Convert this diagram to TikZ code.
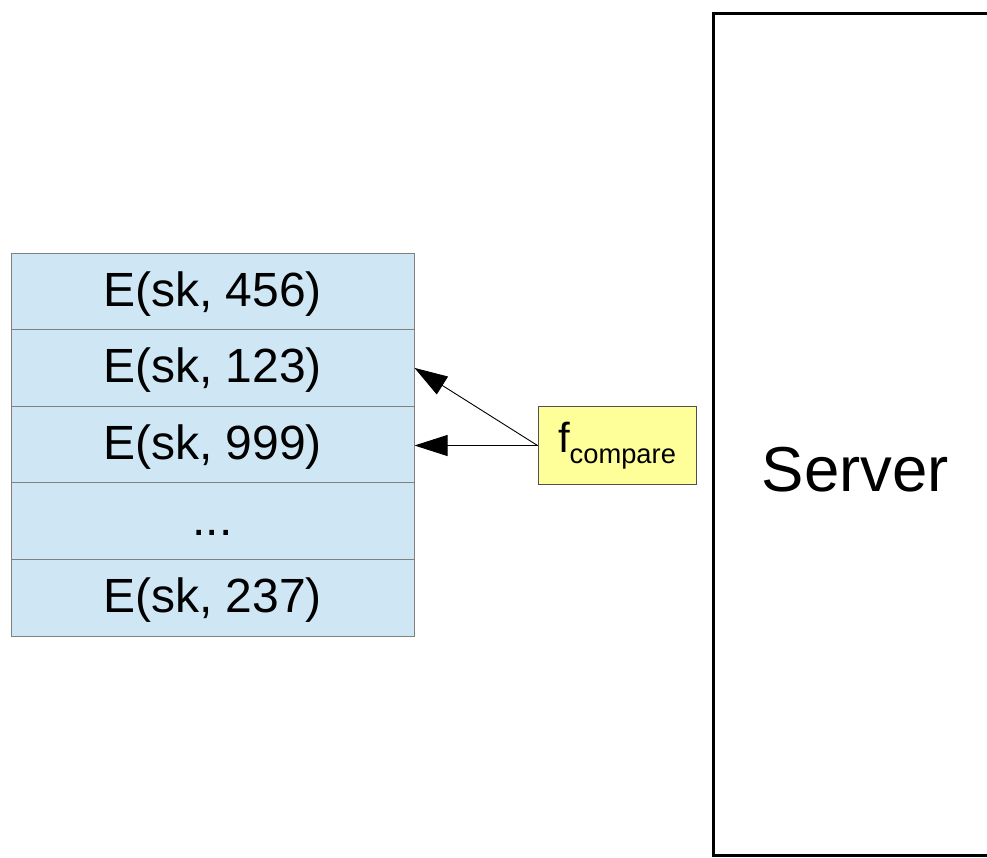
\documentclass[tikz,border=0pt]{standalone}
\usepackage{fontspec}
\setmainfont{Liberation Sans}
\usetikzlibrary{arrows.meta}
\definecolor{cellblue}{RGB}{207,231,245}
\definecolor{cellline}{RGB}{128,128,128}
\definecolor{notefill}{RGB}{255,255,153}
\definecolor{noteline}{RGB}{80,80,80}
\tikzset{
  cell/.style={draw=cellline, line width=1pt, fill=cellblue, minimum width=403pt,
    minimum height=76.6pt, inner sep=0pt, text height=36pt, text depth=6.6pt,
    font=\fontsize{48}{52}\selectfont},
  note/.style={draw=noteline, line width=1pt, fill=notefill, minimum width=158pt,
    minimum height=78pt, inner sep=0pt},
  arr/.style={line width=0.9pt, -{Triangle[length=33pt, width=21pt]}},
}
\begin{document}
\begin{tikzpicture}[x=1pt, y=-1pt]
  \useasboundingbox (0,0) rectangle (987,857);
  \clip (0,0) rectangle (987,857);
  % stack of encrypted values
  \node[cell] (r1) at (212.5,291.3) {E(sk, 456)};
  \node[cell] (r2) at (212.5,367.9) {E(sk, 123)};
  \node[cell] (r3) at (212.5,444.5) {E(sk, 999)};
  \node[cell] (r4) at (212.5,521.1) {...};
  \node[cell] (r5) at (212.5,597.7) {E(sk, 237)};
  % comparison function
  \node[note] (fc) at (617,445.5) {};
  \node (fclabel) at (617,446) {{\fontsize{42}{48}\selectfont f}\raisebox{-11pt}{\fontsize{27.3}{30}\selectfont compare}};
  \draw[arr] (fc.west) -- (fc.west -| r3.east);
  \draw[arr] (fc.west) -- (r2.east);
  % server
  \draw[line width=3pt, miter limit=10] (1000,13.5) -- (713.5,13.5) -- (713.5,855.5) -- (1000,855.5);
  \node[font=\fontsize{63.5}{70}\selectfont] (server) at (855.5,470) {Server};
\end{tikzpicture}
\end{document}
